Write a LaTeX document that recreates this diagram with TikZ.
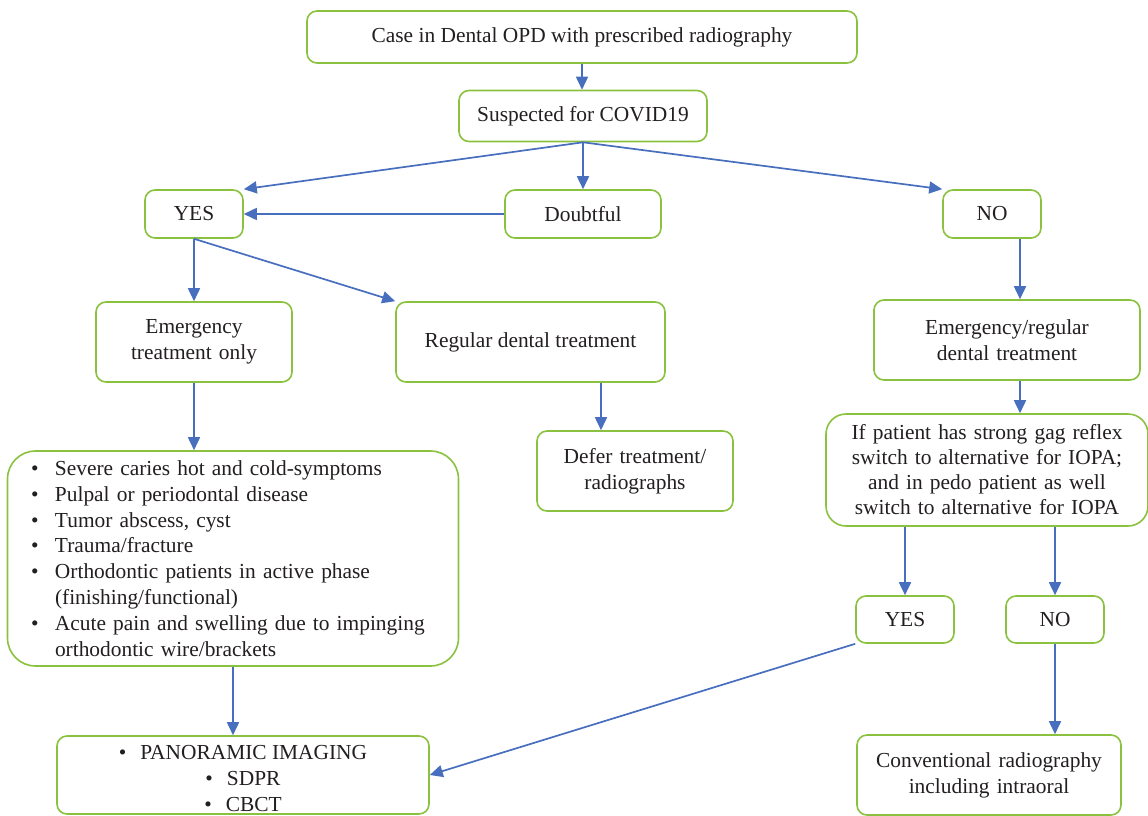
\documentclass[tikz,border=0pt]{standalone}
\usepackage{fontspec}
\setmainfont{Liberation Serif}
\usetikzlibrary{arrows.meta}
\definecolor{boxgreen}{RGB}{138,194,64}
\definecolor{linkblue}{RGB}{72,110,190}
\definecolor{inkgray}{RGB}{35,31,32}
\newcommand{\flowfont}{\fontsize{21.4}{25.8}\selectfont}
\newcommand{\itm}{\makebox[24pt][l]{\textbullet}}
\newcommand{\cnt}{\hspace*{24pt}}
\begin{document}
\begin{tikzpicture}[x=1pt,y=-1pt,>={Triangle[length=13pt,width=12pt]}, line join=round,
	box/.style={draw=boxgreen,line width=1.6pt,rounded corners=10pt,fill=white,text=inkgray,align=center,inner sep=0pt,font=\flowfont},
	link/.style={->,draw=linkblue,line width=1.7pt}]
\useasboundingbox (0,0) rectangle (1148,816);
\node[box,minimum width=550pt,minimum height=52pt] (case) at (582,37) {Case in Dental OPD with prescribed radiography};
\node[box,minimum width=248pt,minimum height=51pt] (susp) at (583,116) {Suspected for COVID19};
\node[box,minimum width=98pt,minimum height=48pt] (yes) at (194,214) {YES};
\node[box,minimum width=156pt,minimum height=48pt] (doubt) at (583,214) {Doubtful};
\node[box,minimum width=98pt,minimum height=48pt] (no) at (992,214) {NO};
\node[box,text width=196pt,minimum height=80pt] (emerg) at (194,342) {Emergency\\treatment only};
\node[box,minimum width=269pt,minimum height=80pt] (regular) at (530.5,342) {Regular dental treatment};
\node[box,text width=266pt,minimum height=80pt] (emreg) at (1007,340) {Emergency/regular\\dental treatment};
\node[box,text width=196pt,minimum height=80pt] (defer) at (635,471) {Defer treatment/\\radiographs};
\node[box,text width=322pt,minimum height=112pt,rounded corners=20pt,font=\fontsize{21.4}{25}\selectfont] (gag) at (987,470)
	{If patient has strong gag reflex\\switch to alternative for IOPA;\\and in pedo patient as well\\switch to alternative for IOPA};
\node[box,text width=404pt,minimum width=451pt,minimum height=215pt,rounded corners=28pt,align=left] (list) at (233,558.5)
	{\itm Severe caries hot and cold-symptoms\\
	\itm Pulpal or periodontal disease\\
	\itm Tumor abscess, cyst\\
	\itm Trauma/fracture\\
	\itm Orthodontic patients in active phase\\
	\cnt(finishing/functional)\\
	\itm Acute pain and swelling due to impinging\\
	\cnt orthodontic wire/brackets};
\node[box,minimum width=98pt,minimum height=47pt] (yes2) at (905,619.5) {YES};
\node[box,minimum width=98pt,minimum height=47pt] (no2) at (1055,619.5) {NO};
\node[box,minimum width=372pt,minimum height=78pt,font=\fontsize{21.4}{26}\selectfont] (pano) at (243,775)
	{\rule{0pt}{21pt}\textbullet\hspace{14pt}PANORAMIC IMAGING\\\textbullet\hspace{14pt}SDPR\\\textbullet\hspace{14pt}CBCT};
\node[box,text width=264pt,minimum height=80pt] (conv) at (989,775) {Conventional radiography\\including intraoral};

\draw[link] (case.south) -- (case.south |- susp.north);
\draw[link] (susp.south) -- (yes.north east);
\draw[link] (susp.south) -- (doubt.north);
\draw[link] (susp.south) -- (no.north west);
\draw[link] (doubt.west) -- (yes.east);
\draw[link] (yes.south) -- (emerg.north);
\draw[link] (yes.south) -- (regular.north west);
\draw[link] (emerg.south) -- (emerg.south |- list.north);
\draw[link] ([xshift=70.5pt]regular.south) -- ([xshift=70.5pt]regular.south |- defer.north);
\draw[link] ([xshift=28pt]no.south) -- ([xshift=28pt]no.south |- emreg.north);
\draw[link] ([xshift=28pt]no.south |- emreg.south) -- ([xshift=28pt]no.south |- gag.north);
\draw[link] (yes2.north |- gag.south) -- (yes2.north);
\draw[link] (no2.north |- gag.south) -- (no2.north);
\draw[link] (list.south) -- (list.south |- pano.north);
\draw[link] (yes2.south west) -- (pano.east);
\draw[link] (no2.south) -- (no2.south |- conv.north);
\end{tikzpicture}
\end{document}
